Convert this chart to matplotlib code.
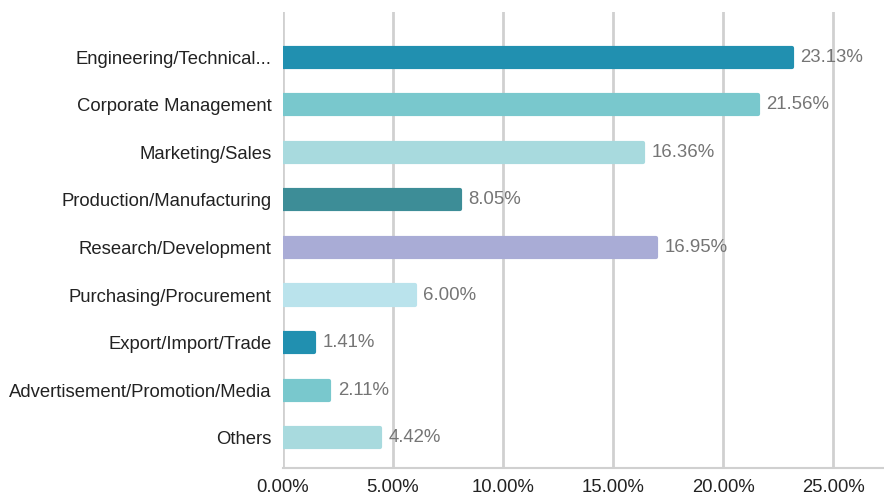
import matplotlib
matplotlib.use("Agg")
import matplotlib.pyplot as plt
from matplotlib.ticker import FuncFormatter

categories = [
    "Engineering/Technical...",
    "Corporate Management",
    "Marketing/Sales",
    "Production/Manufacturing",
    "Research/Development",
    "Purchasing/Procurement",
    "Export/Import/Trade",
    "Advertisement/Promotion/Media",
    "Others",
]
values = [23.13, 21.56, 16.36, 8.05, 16.95, 6.00, 1.41, 2.11, 4.42]
colors = ["#2190b0", "#79c8cd", "#a8dade", "#3d8d97", "#a9acd6",
          "#bae3ec", "#2190b0", "#79c8cd", "#a8dade"]
xticks = [0, 5, 10, 15, 20, 25]

plt.rcParams["font.family"] = ["Liberation Sans", "DejaVu Sans"]

fig = plt.figure(figsize=(8.84, 4.96), dpi=100)
ax = fig.add_axes([0.320, 0.057, 0.680, 0.919])

ypos = list(range(len(categories)))
ax.barh(ypos, values, height=0.40, color=colors, edgecolor=colors,
        linewidth=3, joinstyle="round", zorder=3)

for y, v in zip(ypos, values):
    ax.annotate("{:.2f}%".format(v), xy=(v, y), xytext=(6, 0),
                textcoords="offset points", va="center", ha="left",
                fontsize=13.4, color="#757575")

ax.set_xlim(0, 27.3)
ax.set_ylim(len(categories) - 0.37, -0.95)
ax.set_xticks(xticks)
ax.xaxis.set_major_formatter(FuncFormatter(lambda x, p: "{:.2f}%".format(x)))
ax.set_yticks(ypos)
ax.set_yticklabels(categories)

ax.grid(axis="x", color="#d0d0d0", linewidth=2, zorder=0)
for s in ["top", "right", "left"]:
    ax.spines[s].set_visible(False)
ax.spines["bottom"].set_color("#d0d0d0")
ax.spines["bottom"].set_linewidth(1.5)
ax.tick_params(axis="both", length=0, labelsize=13.3, colors="#222222")
ax.tick_params(axis="y", pad=8)
ax.tick_params(axis="x", pad=8)

fig.savefig("out.png", dpi=100)
